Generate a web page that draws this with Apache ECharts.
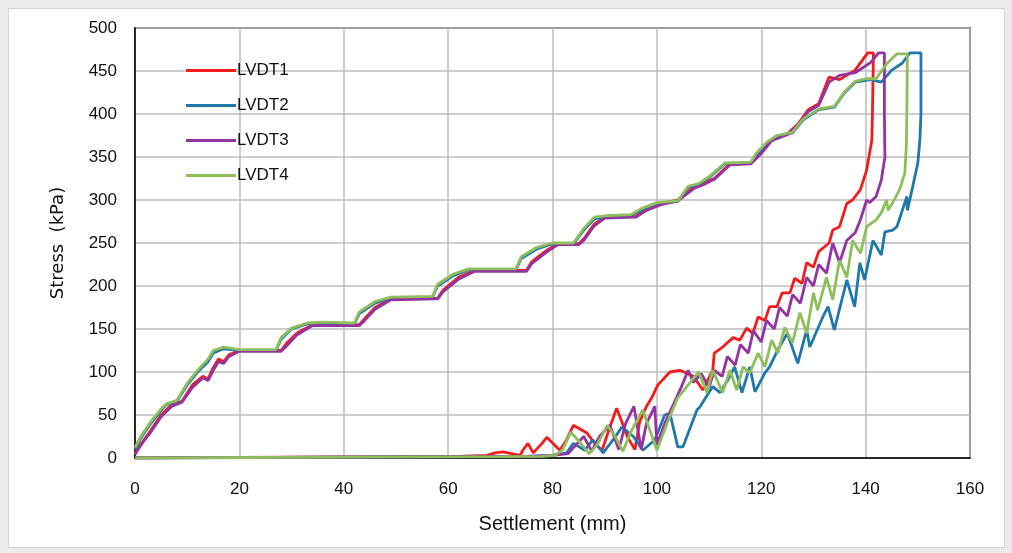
<!DOCTYPE html>
<html>
<head>
<meta charset="utf-8">
<title>Stress - Settlement</title>
<script src="https://cdn.jsdelivr.net/npm/echarts@6/dist/echarts.min.js"></script>
<style>
  html, body { margin: 0; padding: 0; background: #ececec; }
  #frame { position: absolute; left: 8px; top: 8px; width: 995px; height: 538px; background: #fff; border: 1px solid #d4d4d4; }
  #main { position: absolute; left: 0; top: 0; width: 1012px; height: 553px; }
</style>
</head>
<body>
<div id="frame"></div>
<div id="main"></div>
<script>
// tick setup
var xTicks = [0, 160, 20];
var yTicks = [0, 500, 50];
var names = ['LVDT1', 'LVDT2', 'LVDT3', 'LVDT4'];
var colors = ['#f21c1c', '#1f78aa', '#9434a0', '#8fbe5c'];

// loading branches [settlement mm, stress kPa]
var lvdt1Load = [[0,5],[1,15],[3,32],[5,50],[7,62],[9,66],[11,85],[13,95],[14,92],[15,105],[16,115],[17,112],[18,120],[20,125],[28,125],[29,133],[31,145],[34,155],[43,155],[44,162],[46,175],[49,185],[58,186],[59,195],[62,210],[65,218],[75,218],[76,228],[79,242],[81,249],[85,249],[86,255],[88,272],[90,280],[96,281],[98,290],[101,296],[104,300],[107,315],[109,320],[111,325],[114,342],[118,343],[120,355],[122,370],[125,377],[127,388],[129,405],[131,412],[133,443],[135,440],[138,451],[140.4,471],[141.5,471]];
var lvdt2Load = [[0,10],[1,22],[3,40],[5,55],[6,62],[8,66],[10,85],[12,100],[14,112],[15,122],[17,127],[20,125],[27,125],[28,138],[30,150],[33,156],[36,157],[42,156],[43,168],[46,180],[49,186],[57,187],[58,200],[61,212],[64,219],[73,219],[74,232],[77,243],[80,249],[84,249],[86,265],[88,278],[91,281],[95,282],[97,288],[100,296],[104,298],[106,315],[108,318],[110,326],[113,342],[118,343],[119,352],[121,365],[123,374],[126,378],[128,393],[131,405],[134,408],[136,425],[138,437],[141,440],[143,437],[145,451],[147,459],[148.5,471],[150.6,471]];
var lvdt3Load = [[0,4],[1,14],[3,30],[5,48],[7,60],[9,65],[11,82],[13,93],[14,90],[15,102],[16,112],[17,110],[18,118],[20,124],[28,124],[29,130],[31,143],[34,154],[43,154],[44,160],[46,173],[49,184],[58,185],[59,193],[62,208],[65,217],[75,217],[76,226],[79,240],[81,248],[85,248],[86,253],[88,270],[90,279],[96,280],[98,288],[101,295],[104,299],[107,313],[109,318],[111,324],[114,341],[118,342],[120,354],[122,369],[125,376],[127,387],[129,403],[131,410],[133,437],[135,445],[138,448],[141,460],[142.5,471],[143.6,471]];
var lvdt4Load = [[0,12],[1,24],[3,42],[5,57],[6,63],[8,67],[10,87],[12,102],[14,115],[15,125],[17,129],[20,126],[27,126],[28,140],[30,151],[33,157],[36,158],[42,157],[43,170],[46,182],[49,187],[57,188],[58,202],[61,214],[64,220],[73,220],[74,234],[77,245],[80,250],[84,250],[86,267],[88,280],[91,282],[95,283],[97,290],[100,297],[104,299],[106,316],[108,319],[110,327],[113,343],[118,344],[119,354],[121,367],[123,375],[126,379],[128,394],[131,406],[134,409],[136,426],[138,438],[140,441],[142,441],[144,458],[146,470],[148,470]];

// unloading branches
var lvdt1Unload = [[141.4,470],[141.3,400],[141.2,370],[140.2,335],[139,312],[137.5,300],[136.4,296],[135,269],[133.7,265],[133,250],[131,240],[130,222],[128.7,227],[127.8,203],[126.4,209],[125.5,192],[124,192],[123,176],[121.6,176],[120.7,160],[119.4,164],[118.4,145],[117.2,151],[115.9,137],[114.6,140],[112.6,129],[111,122],[110.7,102],[108.8,79],[107,95],[104.4,102],[102.5,100],[100.2,85],[99,70],[98,60],[96.7,42],[95.8,10],[94.4,24],[92.3,58],[91,36],[89.5,9],[88.1,17],[86.6,29],[84,38],[82.7,21],[81.4,9],[78.9,24],[78,17],[76.3,6],[75.3,17],[74.3,9],[73.8,3],[70.5,7],[69,6],[67.4,3],[62,2],[50,1.5],[30,1],[10,0.5],[0,0]];
var lvdt2Unload = [[150.7,470],[150.6,400],[150.4,370],[150,343],[149,315],[148,288],[147.9,304],[146.6,280],[146,269],[145.2,265],[143.7,263],[143,236],[141.4,253],[139.8,207],[138.9,227],[137.9,176],[136.4,207],[134,149],[132.8,176],[131.8,164],[129.3,129],[128.7,149],[127,110],[125,145],[123.2,126],[121.6,106],[120.7,99],[118.8,77],[117.8,106],[116.3,76],[114.9,106],[113.6,91],[112.1,76],[110.7,83],[108.2,59],[107.7,56],[105,13],[104,13],[102.5,52],[101.5,50],[99.6,21],[97.3,9],[95.5,25],[93.3,36],[91.6,21],[89.7,6],[87.7,21],[86.2,9],[84,17],[82.7,6],[80,3],[75,2],[65,1.5],[40,1],[0,0]];
var lvdt3Unload = [[143.6,470],[143.6,400],[143.7,350],[143,323],[142,304],[140.8,297],[140.2,300],[139,277],[138,262],[136.4,253],[135,227],[133.7,250],[132.5,215],[131,225],[130,200],[128.7,210],[127.5,180],[126,190],[125,165],[123.5,175],[122.5,150],[121,160],[120,135],[118.5,148],[117.5,122],[116,132],[115,108],[113.5,118],[112.5,95],[111,102],[110,82],[108.5,98],[107,88],[106,102],[104.5,80],[103,60],[101.5,40],[100,15],[99.6,60],[98,40],[97,10],[95.6,60],[94,40],[92.7,10],[91,38],[89,25],[87.5,8],[86,25],[84,12],[83,5],[80,3],[75,2],[65,1.5],[40,1],[0,0]];
var lvdt4Unload = [[148,470],[147.9,400],[147.8,362],[147.5,331],[146.5,312],[145.2,297],[144.3,288],[144,300],[143,285],[142,277],[140.2,269],[139,238],[137.5,253],[136.4,210],[135,230],[133.7,184],[132.5,210],[130.8,172],[130,192],[128.7,145],[127.4,169],[126,134],[124.5,152],[123.2,122],[122,137],[120.7,106],[119.4,122],[117.8,99],[116.5,106],[115.3,79],[114,102],[112.6,76],[110.7,102],[109.6,76],[108,100],[106,85],[104,70],[102,41],[100,9],[97.3,56],[95,30],[93.5,8],[92,25],[90.5,38],[88.5,15],[87,5],[85,20],[83.5,30],[82,10],[80.5,3],[78,2],[70,1.5],[40,1],[0,0]];

var loads = [lvdt1Load, lvdt2Load, lvdt3Load, lvdt4Load];
var unloads = [lvdt1Unload, lvdt2Unload, lvdt3Unload, lvdt4Unload];

var font = "'Liberation Sans Narrow', 'Liberation Sans', sans-serif";
var chart = echarts.init(document.getElementById('main'), null, {renderer: 'canvas'});

var series = [];
for (var i = 0; i < names.length; i++) {
  series.push({
    name: names[i],
    type: 'line',
    data: loads[i].concat(unloads[i]),
    showSymbol: false,
    symbol: 'none',
    smooth: false,
    lineStyle: {color: colors[i], width: 2.8},
    itemStyle: {color: colors[i]},
    z: 3
  });
}

chart.setOption({
  animation: false,
  backgroundColor: 'transparent',
  grid: {left: 135, right: 42, top: 28, bottom: 95, show: true, borderColor: '#000', borderWidth: 1.5, backgroundColor: 'transparent'},
  legend: {
    orient: 'vertical', left: 181, top: 57, itemGap: 18,
    itemWidth: 50, itemHeight: 3, icon: 'rect',
    data: names,
    textStyle: {fontFamily: font, fontSize: 17, color: '#111', padding: [0, 0, 0, -4]}
  },
  xAxis: {
    type: 'value', min: xTicks[0], max: xTicks[1], interval: xTicks[2],
    name: 'Settlement (mm)', nameLocation: 'middle', nameGap: 56,
    nameTextStyle: {fontFamily: font, fontSize: 20, color: '#111'},
    axisLine: {show: true, lineStyle: {color: '#000', width: 1.5}},
    axisTick: {show: false},
    axisLabel: {fontFamily: font, fontSize: 17, color: '#111', margin: 23},
    splitLine: {show: true, lineStyle: {color: '#bdbdbd', width: 1.5}}
  },
  yAxis: {
    type: 'value', min: yTicks[0], max: yTicks[1], interval: yTicks[2],
    name: 'Stress  (kPa)', nameLocation: 'middle', nameGap: 68,
    nameTextStyle: {fontFamily: "'DejaVu Sans', sans-serif", fontSize: 18, color: '#111'},
    axisLine: {show: true, lineStyle: {color: '#000', width: 1.5}},
    axisTick: {show: false},
    axisLabel: {fontFamily: font, fontSize: 17, color: '#111', margin: 18},
    splitLine: {show: true, lineStyle: {color: '#bdbdbd', width: 1.5}}
  },
  series: series
});
</script>
</body>
</html>
